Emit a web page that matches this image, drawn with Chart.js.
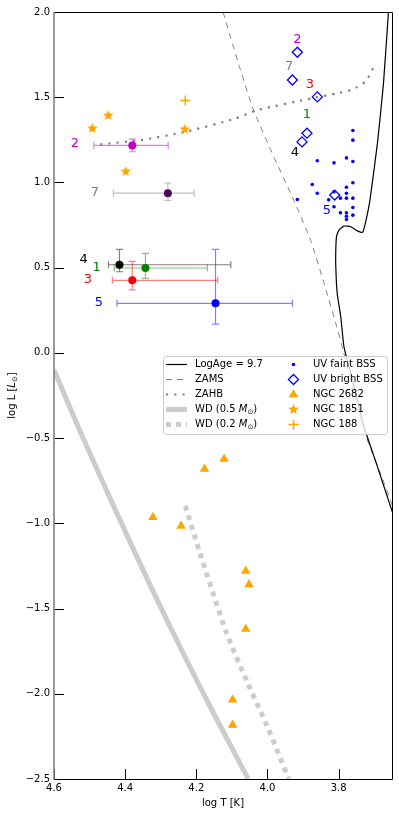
<!DOCTYPE html>
<html>
<head>
<meta charset="utf-8">
<script src="https://cdn.jsdelivr.net/npm/chart.js@4.4.1/dist/chart.umd.min.js"></script>
<style>
  html, body { margin: 0; padding: 0; background: #fff; }
  #wrap { width: 399px; height: 816px; position: relative; }
</style>
</head>
<body>
<div id="wrap"><canvas id="hr"></canvas></div>
<script>
// ticks
const xTicks = [4.6, 4.4, 4.2, 4.0, 3.8];
const yTicks = [2.0, 1.5, 1.0, 0.5, 0.0, -0.5, -1.0, -1.5, -2.0, -2.5];

// isochrone, LogAge = 9.7
const isoT = [3.660, 3.674, 3.691, 3.712, 3.724, 3.733, 3.747, 3.766, 3.785, 3.799, 3.806, 3.808, 3.808, 3.804, 3.794, 3.785, 3.766, 3.747, 3.729, 3.691, 3.654, 3.649];
const isoL = [2.0, 1.58, 1.229, 0.896, 0.769, 0.707, 0.716, 0.740, 0.744, 0.720, 0.681, 0.603, 0.505, 0.349, 0.212, 0.036, -0.120, -0.276, -0.432, -0.667, -0.902, -0.933];

// ZAMS
const zamsT = [4.125, 4.104, 4.076, 4.039, 3.982, 3.926, 3.879, 3.841, 3.808, 3.790, 3.729, 3.705, 3.672, 3.649];
const zamsL = [2.0, 1.853, 1.660, 1.424, 1.150, 0.896, 0.662, 0.408, 0.174, 0.036, -0.452, -0.588, -0.764, -0.897];

// ZAHB
const zahbT = [4.470, 4.358, 4.231, 4.090, 4.029, 3.870, 3.806, 3.761, 3.724, 3.701];
const zahbL = [1.224, 1.248, 1.297, 1.375, 1.424, 1.496, 1.522, 1.545, 1.594, 1.678];

// white dwarf cooling tracks
const wd05T = [4.6, 4.516, 4.389, 4.283, 4.171, 4.054];
const wd05L = [-0.10, -0.510, -1.097, -1.566, -2.035, -2.5];
const wd02T = [4.231, 4.189, 4.151, 4.114, 4.057, 4.001, 3.940];
const wd02L = [-0.897, -1.18, -1.42, -1.65, -1.93, -2.19, -2.5];

// UV faint BSS
const faintT = [3.760, 3.760, 3.860, 3.813, 3.778, 3.760, 3.874, 3.760, 3.860, 3.778, 3.778, 3.778, 3.760, 3.813, 3.828, 3.795, 3.813, 3.795, 3.778, 3.778, 3.778, 3.760, 3.760, 3.916];
const faintL = [1.305, 1.248, 1.127, 1.115, 1.144, 1.123, 0.988, 0.998, 0.937, 0.972, 0.937, 0.908, 0.908, 0.945, 0.898, 0.908, 0.857, 0.822, 0.822, 0.802, 0.783, 0.808, 0.853, 0.900];

// UV bright BSS
const brightT = [3.916, 3.930, 3.860, 3.889, 3.903, 3.811];
const brightL = [1.764, 1.601, 1.502, 1.289, 1.238, 0.926];

// comparison clusters
const n2682T = [4.177, 4.122, 4.322, 4.243, 4.061, 4.052, 4.061, 4.098, 4.098];
const n2682L = [-0.681, -0.622, -0.964, -1.015, -1.279, -1.359, -1.620, -2.035, -2.183];
const n1851T = [4.492, 4.448, 4.232, 4.398];
const n1851L = [1.317, 1.393, 1.312, 1.064];
const n188T = [4.231];
const n188L = [1.481];

// numbered sources with error ranges
const srcNames = ['1', '2', '3', '4', '5', '7'];
const srcT = [4.343, 4.380, 4.380, 4.416, 4.146, 4.280];
const srcL = [0.498, 1.217, 0.426, 0.517, 0.291, 0.937];
const srcTmin = [4.169, 4.279, 4.140, 4.103, 3.930, 4.206];
const srcTmax = [4.431, 4.488, 4.436, 4.447, 4.423, 4.433];
const srcLmin = [0.437, 1.180, 0.370, 0.476, 0.169, 0.894];
const srcLmax = [0.584, 1.254, 0.537, 0.607, 0.607, 0.996];
const srcColor = ['#008000', '#bf00bf', '#ff0000', '#000000', '#0000ff', '#4a0a55'];
const srcLabelColor = ['#008000', '#bf00bf', '#ff0000', '#000000', '#0000ff', '#808080'];
const srcBarColor = ['rgba(0,128,0,0.5)', 'rgba(191,0,191,0.5)', 'rgba(255,0,0,0.5)', 'rgba(0,0,0,0.5)', 'rgba(0,0,255,0.5)', 'rgba(128,128,128,0.5)'];
// label positions: next to the error-bar point and next to the UV diamond
const labLeftT = [4.480, 4.541, 4.505, 4.517, 4.474, 4.485];
const labLeftL = [0.499, 1.225, 0.427, 0.550, 0.294, 0.939];
const labRightT = [3.889, 3.916, 3.881, 3.923, 3.833, 3.939];
const labRightL = [1.395, 1.838, 1.576, 1.174, 0.834, 1.678];

const FONT = "'DejaVu Sans', 'Liberation Sans', sans-serif";
const pts = (t, l) => t.map((v, i) => ({ x: v, y: l[i] }));
const fmt = v => (v < 0 ? '\u2212' : '') + Math.abs(v).toFixed(1);

function makeStar(r, color) {
  const c = document.createElement('canvas');
  const s = Math.ceil(2 * r + 2);
  c.width = s; c.height = s;
  const g = c.getContext('2d');
  g.fillStyle = color;
  g.beginPath();
  for (let i = 0; i < 10; i++) {
    const rr = i % 2 ? r * 0.45 : r;
    const a = -Math.PI / 2 + i * Math.PI / 5;
    g.lineTo(s / 2 + rr * Math.cos(a), s / 2 + rr * Math.sin(a));
  }
  g.closePath();
  g.fill();
  return c;
}
const starImg = makeStar(5.5, '#ffa500');

const lineSets = [
  { label: 'LogAge = 9.7', data: pts(isoT, isoL), borderColor: '#000', borderWidth: 1.2, borderDash: [], tension: 0.15 },
  { label: 'ZAMS', data: pts(zamsT, zamsL), borderColor: '#808080', borderWidth: 1, borderDash: [6, 5], tension: 0.2 },
  { label: 'ZAHB', data: pts(zahbT, zahbL), borderColor: '#808080', borderWidth: 2.2, borderDash: [2.2, 6], tension: 0.2 },
  { label: 'WD (0.5)', data: pts(wd05T, wd05L), borderColor: '#cccccc', borderWidth: 5, borderDash: [], tension: 0.3 },
  { label: 'WD (0.2)', data: pts(wd02T, wd02L), borderColor: '#cccccc', borderWidth: 5, borderDash: [5, 5], tension: 0.3 }
].map((d, i) => Object.assign(d, { showLine: true, pointRadius: 0, clip: 0, order: 5 + i }));

const markSets = [
  { label: 'UV faint BSS', data: pts(faintT, faintL), pointStyle: 'circle', pointRadius: 1.8, backgroundColor: '#0000ff', borderColor: '#0000ff', borderWidth: 0 },
  { label: 'UV bright BSS', data: pts(brightT, brightL), pointStyle: 'rectRot', pointRadius: 5, backgroundColor: 'rgba(0,0,0,0)', borderColor: '#0000ff', borderWidth: 1.3 },
  { label: 'NGC 2682', data: pts(n2682T, n2682L), pointStyle: 'triangle', pointRadius: 5.5, backgroundColor: '#ffa500', borderColor: '#ffa500', borderWidth: 0 },
  { label: 'NGC 1851', data: pts(n1851T, n1851L), pointStyle: starImg, pointRadius: 5.5, backgroundColor: '#ffa500', borderColor: '#ffa500' },
  { label: 'NGC 188', data: pts(n188T, n188L), pointStyle: 'cross', pointRadius: 5, backgroundColor: '#ffa500', borderColor: '#ffa500', borderWidth: 1.5 }
].map(d => Object.assign(d, { order: 1 }));

const srcSet = {
  label: 'sources', data: pts(srcT, srcL), pointStyle: 'circle', pointRadius: 4,
  backgroundColor: srcColor, borderColor: srcColor, borderWidth: 0, order: 0
};

const datasets = [srcSet, ...markSets, ...lineSets];
const SRC_INDEX = 0;

// text with italic / subscript pieces
function richWidth(ctx, parts, size) {
  let w = 0;
  parts.forEach(([t, s]) => {
    ctx.font = (s === 'i' ? 'italic ' : '') + (s === 'sub' ? size * 0.7 : size) + 'px ' + FONT;
    w += ctx.measureText(t).width;
  });
  return w;
}
function drawRich(ctx, parts, x, y, size) {
  parts.forEach(([t, s]) => {
    ctx.font = (s === 'i' ? 'italic ' : '') + (s === 'sub' ? size * 0.7 : size) + 'px ' + FONT;
    ctx.fillText(t, x, s === 'sub' ? y + size * 0.3 : y);
    x += ctx.measureText(t).width;
  });
}

function drawLegend(ctx) {
  const x0 = 163, y0 = 356, w = 224, h = 78;
  ctx.save();
  ctx.fillStyle = 'rgba(255,255,255,0.8)';
  ctx.strokeStyle = '#cccccc';
  ctx.lineWidth = 1;
  ctx.beginPath();
  ctx.roundRect(x0 + 0.5, y0 + 0.5, w, h, 3);
  ctx.fill();
  ctx.stroke();

  const rows = [0, 1, 2, 3, 4].map(i => y0 + 8.5 + 15 * i);
  const leftText = [
    [['LogAge = 9.7', '']],
    [['ZAMS', '']],
    [['ZAHB', '']],
    [['WD (0.5 ', ''], ['M', 'i'], ['\u2299', 'sub'], [')', '']],
    [['WD (0.2 ', ''], ['M', 'i'], ['\u2299', 'sub'], [')', '']]
  ];
  ctx.textBaseline = 'middle';
  ctx.textAlign = 'left';
  lineSets.forEach((d, i) => {
    ctx.save();
    ctx.strokeStyle = d.borderColor;
    ctx.lineWidth = d.borderWidth;
    ctx.setLineDash(d.borderDash);
    ctx.beginPath();
    ctx.moveTo(166, rows[i]);
    ctx.lineTo(187, rows[i]);
    ctx.stroke();
    ctx.restore();
    ctx.fillStyle = '#000';
    drawRich(ctx, leftText[i], 195, rows[i], 10);
  });

  const mx = 293.5;
  markSets.forEach((d, i) => {
    const y = rows[i];
    ctx.save();
    ctx.fillStyle = d.backgroundColor;
    ctx.strokeStyle = d.borderColor;
    ctx.lineWidth = d.borderWidth || 1;
    Chart.helpers.drawPoint(ctx, { pointStyle: d.pointStyle, radius: d.pointRadius, borderWidth: d.borderWidth || 0, rotation: 0 }, mx, y);
    ctx.restore();
    ctx.fillStyle = '#000';
    ctx.font = '10px ' + FONT;
    ctx.fillText(d.label, 313, y);
  });
  ctx.restore();
}

const decor = {
  id: 'decor',
  beforeDatasetDraw(chart, args) {
    if (args.index !== SRC_INDEX) return;
    const { ctx, scales: { x, y } } = chart;
    ctx.save();
    ctx.lineWidth = 1.2;
    srcT.forEach((t, i) => {
      const px = x.getPixelForValue(t), py = y.getPixelForValue(srcL[i]);
      const xa = x.getPixelForValue(srcTmax[i]), xb = x.getPixelForValue(srcTmin[i]);
      const ya = y.getPixelForValue(srcLmax[i]), yb = y.getPixelForValue(srcLmin[i]);
      const cap = 3.5;
      ctx.strokeStyle = srcBarColor[i];
      ctx.beginPath();
      ctx.moveTo(xa, py); ctx.lineTo(xb, py);
      ctx.moveTo(xa, py - cap); ctx.lineTo(xa, py + cap);
      ctx.moveTo(xb, py - cap); ctx.lineTo(xb, py + cap);
      ctx.moveTo(px, ya); ctx.lineTo(px, yb);
      ctx.moveTo(px - cap, ya); ctx.lineTo(px + cap, ya);
      ctx.moveTo(px - cap, yb); ctx.lineTo(px + cap, yb);
      ctx.stroke();
    });
    ctx.restore();
  },
  afterDatasetsDraw(chart) {
    const { ctx, scales: { x, y } } = chart;
    ctx.save();
    ctx.font = '13px ' + FONT;
    ctx.textAlign = 'center';
    ctx.textBaseline = 'middle';
    srcNames.forEach((n, i) => {
      ctx.fillStyle = srcLabelColor[i];
      ctx.fillText(n, x.getPixelForValue(labLeftT[i]), y.getPixelForValue(labLeftL[i]));
      ctx.fillText(n, x.getPixelForValue(labRightT[i]), y.getPixelForValue(labRightL[i]));
    });
    ctx.restore();
  },
  afterDraw(chart) {
    const { ctx, chartArea: a, scales: { x, y } } = chart;
    ctx.save();
    // inward ticks
    ctx.strokeStyle = '#000';
    ctx.lineWidth = 1;
    ctx.beginPath();
    xTicks.forEach(v => {
      const px = Math.round(x.getPixelForValue(v)) + 0.5;
      ctx.moveTo(px, a.bottom); ctx.lineTo(px, a.bottom - 10);
    });
    yTicks.forEach(v => {
      const py = Math.round(y.getPixelForValue(v)) + 0.5;
      ctx.moveTo(a.left, py); ctx.lineTo(a.left + 10, py);
    });
    ctx.stroke();
    // spines
    ctx.beginPath();
    ctx.moveTo(a.left, a.top + 0.5); ctx.lineTo(a.right + 0.5, a.top + 0.5);
    ctx.lineTo(a.right + 0.5, a.bottom + 0.5); ctx.lineTo(a.left, a.bottom + 0.5);
    ctx.stroke();
    ctx.strokeStyle = '#808080';
    ctx.lineWidth = 1.6;
    ctx.beginPath();
    ctx.moveTo(a.left, a.top); ctx.lineTo(a.left, a.bottom + 1);
    ctx.stroke();

    drawLegend(ctx);

    // axis titles
    ctx.fillStyle = '#000';
    ctx.textBaseline = 'middle';
    ctx.textAlign = 'center';
    ctx.font = '10px ' + FONT;
    ctx.fillText('log T [K]', (a.left + a.right) / 2, 803);
    const yParts = [['log L [', ''], ['L', 'i'], ['\u2299', 'sub'], [']', '']];
    ctx.textAlign = 'left';
    ctx.translate(12, (a.top + a.bottom) / 2);
    ctx.rotate(-Math.PI / 2);
    drawRich(ctx, yParts, -richWidth(ctx, yParts, 10) / 2, 0, 10);
    ctx.restore();
  }
};

new Chart(document.getElementById('hr'), {
  type: 'scatter',
  data: { datasets },
  options: {
    responsive: true,
    maintainAspectRatio: false,
    animation: false,
    events: [],
    layout: { padding: { top: 12, right: 7, left: 0, bottom: 0 } },
    plugins: { legend: { display: false }, tooltip: { enabled: false } },
    scales: {
      x: {
        type: 'linear', reverse: true, min: 3.65, max: 4.6,
        afterBuildTicks: s => { s.ticks = xTicks.map(v => ({ value: v })); },
        afterFit: s => { s.height = 37; },
        grid: { display: false, drawTicks: false },
        border: { display: false },
        ticks: { padding: 3, color: '#000', font: { family: FONT, size: 10 }, maxRotation: 0, autoSkip: false, callback: v => fmt(v) }
      },
      y: {
        type: 'linear', min: -2.5, max: 2.0,
        afterBuildTicks: s => { s.ticks = yTicks.map(v => ({ value: v })); },
        afterFit: s => { s.width = 54; },
        grid: { display: false, drawTicks: false },
        border: { display: false },
        ticks: { padding: 4, color: '#000', font: { family: FONT, size: 10 }, autoSkip: false, callback: v => fmt(v) }
      }
    }
  },
  plugins: [decor]
});
</script>
</body>
</html>
